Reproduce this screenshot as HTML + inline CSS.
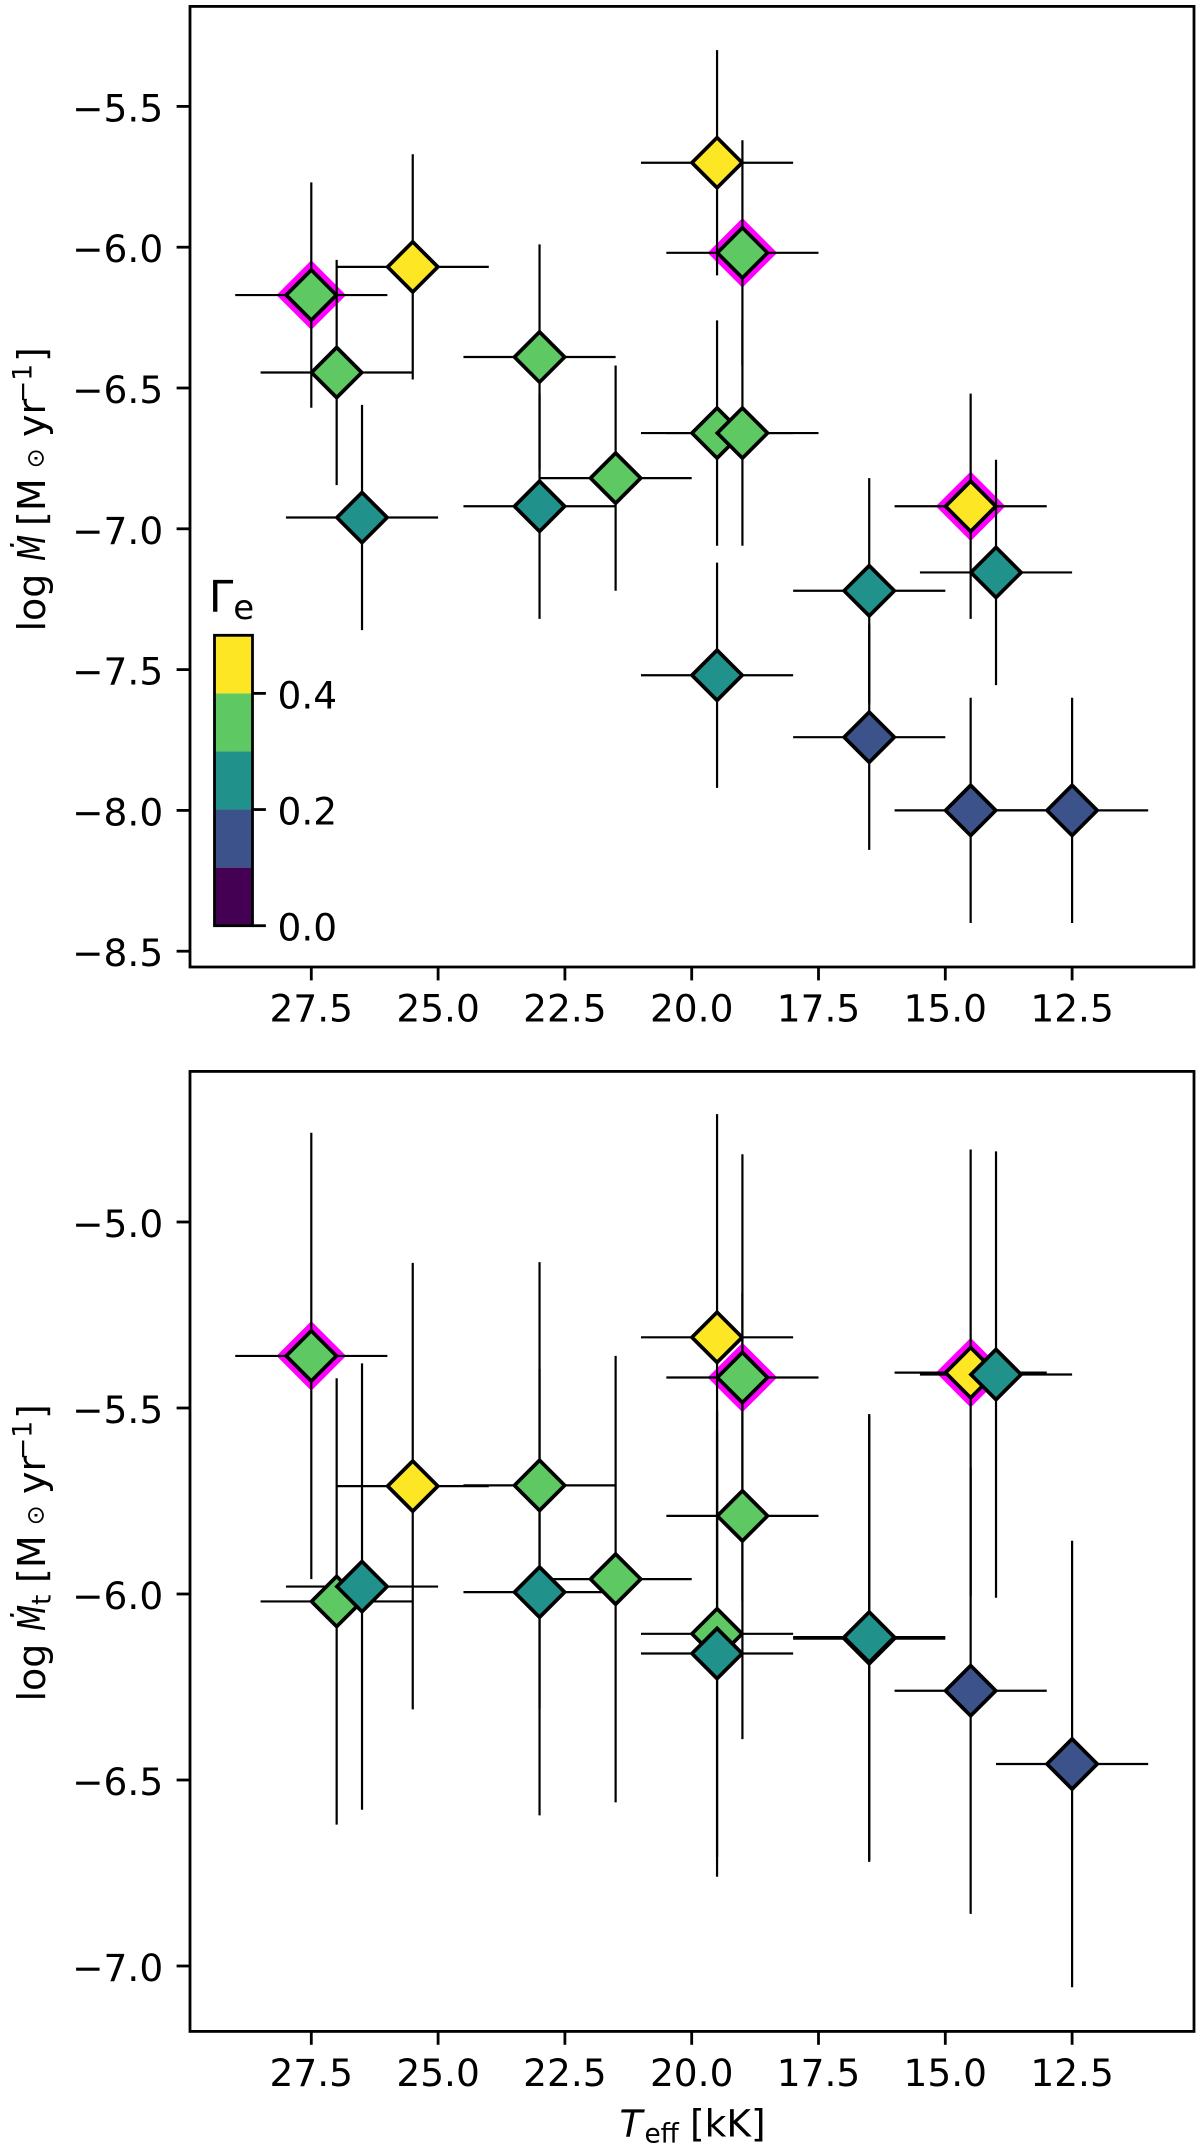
<!DOCTYPE html>
<html lang="en">
<head>
<meta charset="utf-8">
<title>Mass-loss rate vs effective temperature</title>
<style>
html,body{margin:0;padding:0;background:#fff;}
svg{display:block;font-family:"DejaVu Sans","Liberation Sans",sans-serif;}
text{fill:#000;}
</style>
</head>
<body>
<svg id="chart" xmlns="http://www.w3.org/2000/svg" width="1200" height="2149" viewBox="0 0 1200 2149">
  <rect x="0" y="0" width="1200" height="2149" fill="#fff"/>
  <g id="top-panel"></g>
  <g id="bottom-panel"></g>
  <g id="colorbar"></g>
  <g transform="translate(45,628) rotate(-90)" font-size="38">
    <text x="-3.5" y="0">log</text>
    <text transform="translate(67,0) scale(0.8,1)" font-style="italic">Ṁ</text>
    <text y="0"><tspan x="102" y="0">[M</tspan><tspan x="159.6" y="-1.5" font-size="24">⊙</tspan><tspan x="191" y="0">yr</tspan><tspan x="225" y="-13.3" font-size="26.6">−1</tspan><tspan x="266" y="0">]</tspan></text>
  </g>
  <g transform="translate(45,1698) rotate(-90)" font-size="38">
    <text x="-3.5" y="0">log</text>
    <text transform="translate(67,0) scale(0.8,1)" font-style="italic">Ṁ</text>
    <text y="0"><tspan x="93" y="5.5" font-size="26.6">t</tspan><tspan x="115" y="0">[M</tspan><tspan x="172.6" y="-1.5" font-size="24">⊙</tspan><tspan x="204" y="0">yr</tspan><tspan x="238" y="-13.3" font-size="26.6">−1</tspan><tspan x="279" y="0">]</tspan></text>
  </g>
  <text font-size="37.5"><tspan x="619.5" y="2136.7" font-style="italic">T</tspan><tspan x="644.5" y="2142.7" font-size="26.3">eff</tspan><tspan x="690" y="2136.7">[kK]</tspan></text>
  <text x="208.7" y="612" font-size="44">Γ<tspan font-size="34" dy="7">e</tspan></text>
</svg>
<script>
// ---- data ----
const temperature = [27.5, 27, 26.5, 25.5, 23, 23, 21.5, 19.5, 19.5, 19, 19, 19.5, 16.5, 16.5, 14.5, 14, 14.5, 12.5];
const mdot = [-6.17, -6.445, -6.96, -6.07, -6.39, -6.92, -6.82, -5.70, -6.66, -6.02, -6.66, -7.52, -7.74, -7.22, -6.92, -7.155, -8.0, -8.0];
const mdotT = [-5.36, -6.02, -5.98, -5.71, -5.708, -5.995, -5.96, -5.31, -6.107, -5.418, -5.79, -6.16, -6.12, -6.116, -5.405, -5.41, -6.26, -6.457];
const gammaE = [0.35, 0.35, 0.25, 0.45, 0.35, 0.25, 0.35, 0.45, 0.35, 0.35, 0.35, 0.25, 0.15, 0.25, 0.45, 0.25, 0.15, 0.15];
const highlighted = [1, 0, 0, 0, 0, 0, 0, 0, 0, 1, 0, 0, 0, 0, 1, 0, 0, 0];
const xErr = 1.5;
const mdotErr = 0.4;
const mdotTErr = 0.6;
const xTicks = [27.5, 25.0, 22.5, 20.0, 17.5, 15.0, 12.5];
const topYTicks = [-5.5, -6.0, -6.5, -7.0, -7.5, -8.0, -8.5];
const bottomYTicks = [-5.0, -5.5, -6.0, -6.5, -7.0];
const colorbarTicks = [0.0, 0.2, 0.4];
const colorBins = [0.0, 0.1, 0.2, 0.3, 0.4, 0.5];

// ---- layout and scales ----
const SVGNS = 'http://www.w3.org/2000/svg';
const PALETTE = ['#440154', '#3b528b', '#21918c', '#5ec962', '#fde725'];
const AX = { left: 190, right: 1194 };
const TOP = { top: 6.4, bottom: 967 };
const BOT = { top: 1071.4, bottom: 2031.4 };
const CB = { left: 214.5, right: 252.5, top: 635.3, bottom: 925.7 };
const TICK_FONT = 37.5;

function xScale(t) { return 311.3 + (27.5 - t) * 50.72; }
function yTop(v) { return 106.4 + (-5.5 - v) * 281.6; }
function yBottom(v) { return 1222 + (-5 - v) * 372; }
function cbScale(g) { return CB.bottom + (0 - g) * (CB.bottom - CB.top) / 0.5; }
function colorFor(g) {
  for (let i = 0; i < PALETTE.length; i++) {
    if (g < colorBins[i + 1]) return PALETTE[i];
  }
  return PALETTE[PALETTE.length - 1];
}
function fmt(v) { return v.toFixed(1).replace('-', '\u2212'); }

function make(tag, parent, attrs, text) {
  const node = document.createElementNS(SVGNS, tag);
  for (const k in attrs) node.setAttribute(k, attrs[k]);
  if (text !== undefined) node.textContent = text;
  parent.appendChild(node);
  return node;
}
function diamondPoints(cx, cy, r) {
  return (cx - r) + ',' + cy + ' ' + cx + ',' + (cy - r) + ' ' + (cx + r) + ',' + cy + ' ' + cx + ',' + (cy + r);
}

function drawPanel(root, box, yScale, values, yErr, yTicks, prefix) {
  // highlight diamonds sit beneath everything
  temperature.forEach(function (t, i) {
    if (!highlighted[i]) return;
    const el = make('polygon', root, { points: diamondPoints(xScale(t), yScale(values[i]), 34.8), fill: '#ff00ff' });
    
    
  });
  // error bars
  temperature.forEach(function (t, i) {
    const cx = xScale(t), cy = yScale(values[i]);
    const h = make('line', root, { x1: xScale(t + xErr), x2: xScale(t - xErr), y1: cy, y2: cy, stroke: '#000', 'stroke-width': 2.2 });
    
    
    const v = make('line', root, { x1: cx, x2: cx, y1: yScale(values[i] + yErr), y2: yScale(values[i] - yErr), stroke: '#000', 'stroke-width': 2.2 });
    
    
  });
  // markers
  temperature.forEach(function (t, i) {
    const el = make('polygon', root, {
      points: diamondPoints(xScale(t), yScale(values[i]), 25.1),
      fill: colorFor(gammaE[i]), stroke: '#000', 'stroke-width': 3.7, 'stroke-linejoin': 'miter'
    });
    
    
  });
  // frame
  const frame = make('rect', root, { x: AX.left, y: box.top, width: AX.right - AX.left, height: box.bottom - box.top, fill: 'none', stroke: '#000', 'stroke-width': 2.8 });
  
  
  // x ticks
  xTicks.forEach(function (t) {
    const x = xScale(t);
    const tick = make('line', root, { x1: x, x2: x, y1: box.bottom, y2: box.bottom + 13.4, stroke: '#000', 'stroke-width': 2.8 });
    
    
    const lab = make('text', root, { x: x, y: box.bottom + 54.7, 'text-anchor': 'middle', 'font-size': TICK_FONT }, fmt(t));
    
    
  });
  // y ticks
  yTicks.forEach(function (v) {
    const y = yScale(v);
    const tick = make('line', root, { x1: AX.left - 13.4, x2: AX.left, y1: y, y2: y, stroke: '#000', 'stroke-width': 2.8 });
    
    
    const lab = make('text', root, { x: 163.2, y: y + 15, 'text-anchor': 'end', 'font-size': TICK_FONT }, fmt(v));
    
    
  });
}

function drawColorbar(root) {
  PALETTE.forEach(function (c, i) {
    const y1 = cbScale(colorBins[i + 1]), y0 = cbScale(colorBins[i]);
    const seg = make('rect', root, { x: CB.left, y: y1, width: CB.right - CB.left, height: y0 - y1, fill: c });
    
    
  });
  const outline = make('rect', root, { x: CB.left, y: CB.top, width: CB.right - CB.left, height: CB.bottom - CB.top, fill: 'none', stroke: '#000', 'stroke-width': 2.8 });
  
  
  colorbarTicks.forEach(function (g) {
    const y = cbScale(g);
    const tick = make('line', root, { x1: CB.right, x2: CB.right + 13.4, y1: y, y2: y, stroke: '#000', 'stroke-width': 2.8 });
    
    
    const lab = make('text', root, { x: 277.5, y: y + 15, 'font-size': TICK_FONT }, g.toFixed(1));
    
    
  });
}

drawPanel(document.getElementById('top-panel'), TOP, yTop, mdot, mdotErr, topYTicks, 'top');
drawPanel(document.getElementById('bottom-panel'), BOT, yBottom, mdotT, mdotTErr, bottomYTicks, 'bottom');
drawColorbar(document.getElementById('colorbar'));
</script>
</body>
</html>
